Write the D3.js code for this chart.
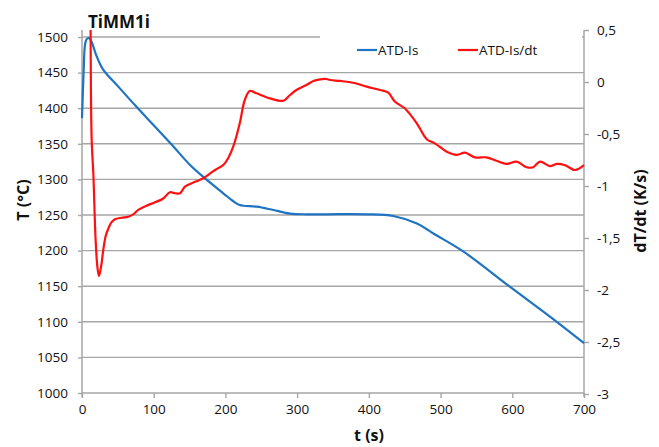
<!DOCTYPE html>
<html>
<head>
<meta charset="utf-8">
<script src="https://cdn.jsdelivr.net/npm/d3@7"></script>
<style>
  body { margin: 0; background: #fff; }
  svg { display: block; font-family: "Open Sans", sans-serif; }
</style>
</head>
<body>
<div id="chart"></div>
<script>
// temperature curve (left axis)
const tempTime = [0, 2.3, 4.2, 6.5, 9.8, 13.5, 20, 29, 50, 75, 100, 125, 150, 172, 197, 210, 220, 243.6, 266.8, 290, 313, 341, 397, 434, 467, 490, 532, 597, 662, 700];
const tempValues = [1386, 1453, 1489, 1497, 1498.5, 1493, 1474, 1455, 1431, 1403, 1376, 1349, 1321, 1301, 1280.5, 1270, 1264, 1261.7, 1257, 1252, 1251, 1251, 1251, 1248.6, 1238, 1224, 1198.5, 1149, 1100, 1070];

// derivative curve (right axis)
const rateTime = [12, 13.5, 15.8, 19, 21.5, 23.7, 26.5, 29.7, 33, 36.7, 41, 46, 55, 64.6, 72, 78.5, 90, 101.8, 113.4, 122.7, 129.7, 136.7, 143.6, 150.6, 157.6, 169, 185.5, 197, 204, 211, 220, 227, 234, 243.6, 262, 280.7, 290, 299, 313, 322.6, 332, 341, 346, 360, 378, 397, 415.6, 427, 436.5, 450, 466.8, 480.7, 492, 508.6, 522.6, 534, 548, 564, 578, 592, 606, 620, 629, 638.7, 652.6, 662, 673.6, 687.5, 700];
const rateValues = [0.5, -0.56, -0.88, -1.52, -1.78, -1.865, -1.78, -1.615, -1.48, -1.41, -1.35, -1.32, -1.305, -1.295, -1.27, -1.23, -1.19, -1.157, -1.12, -1.06, -1.07, -1.07, -1.006, -0.98, -0.96, -0.926, -0.846, -0.798, -0.73, -0.62, -0.397, -0.173, -0.087, -0.109, -0.157, -0.18, -0.125, -0.077, -0.029, 0.01, 0.026, 0.029, 0.019, 0.01, -0.007, -0.045, -0.077, -0.103, -0.19, -0.253, -0.397, -0.55, -0.59, -0.67, -0.70, -0.68, -0.725, -0.725, -0.757, -0.788, -0.766, -0.82, -0.82, -0.766, -0.81, -0.788, -0.80, -0.846, -0.80];

const xTicks = [0, 100, 200, 300, 400, 500, 600, 700];
const leftTicks = [1000, 1050, 1100, 1150, 1200, 1250, 1300, 1350, 1400, 1450, 1500];
const rightTicks = [0.5, 0, -0.5, -1, -1.5, -2, -2.5, -3];
const rightTickLabels = ["0,5", "0", "-0,5", "-1", "-1,5", "-2", "-2,5", "-3"];
const seriesNames = ["ATD-Is", "ATD-Is/dt"];

const W = 659, H = 447;
const plotLeft = 82, plotRight = 584, plotTop = 30, plotBottom = 394;
const gridColor = "#a6a6a6";
const blue = "#1e73c3", red = "#ff1010";

const svg = d3.select("#chart").append("svg")
    .attr("width", W)
    .attr("height", H);

const x = d3.scaleLinear().domain([0, 700]).range([plotLeft, plotRight]);
const yL = d3.scaleLinear().domain([1000, 1500]).range([393, 37]);
const yR = d3.scaleLinear().domain([-3, 0.5]).range([plotBottom, plotTop]);

// gridlines from left axis
svg.append("g").selectAll("line")
    .data(leftTicks.slice(1))
    .enter().append("line")
    .attr("x1", plotLeft).attr("x2", plotRight)
    .attr("y1", d => yL(d)).attr("y2", d => yL(d))
    .attr("stroke", gridColor).attr("stroke-width", 1.4);

// axis lines
svg.append("line").attr("x1", plotLeft).attr("x2", plotLeft).attr("y1", plotTop).attr("y2", 397)
    .attr("stroke", gridColor).attr("stroke-width", 1.5);
svg.append("line").attr("x1", plotRight).attr("x2", plotRight).attr("y1", plotTop).attr("y2", 397)
    .attr("stroke", gridColor).attr("stroke-width", 1.5);
svg.append("line").attr("x1", plotLeft).attr("x2", plotRight).attr("y1", 393).attr("y2", 393)
    .attr("stroke", gridColor).attr("stroke-width", 1.5);

const styleAxis = g => {
    g.select(".domain").remove();
    g.selectAll(".tick line").attr("stroke", gridColor).attr("stroke-width", 1.4);
    g.selectAll(".tick text").attr("fill", "#111").style("font-size", "13.5px")
        .style("font-family", "'Open Sans', sans-serif");
};

svg.append("g")
    .attr("transform", "translate(" + plotLeft + ",0)")
    .call(d3.axisLeft(yL).tickValues(leftTicks).tickFormat(d3.format("d"))
        .tickSize(4).tickPadding(10).tickSizeOuter(0))
    .call(styleAxis);

svg.append("g")
    .attr("transform", "translate(" + plotRight + ",0)")
    .call(d3.axisRight(yR).tickValues(rightTicks).tickFormat((d, i) => rightTickLabels[i])
        .tickSize(5).tickPadding(8).tickSizeOuter(0))
    .call(styleAxis);

svg.append("g")
    .attr("transform", "translate(0,393)")
    .call(d3.axisBottom(x).tickValues(xTicks).tickFormat(d3.format("d"))
        .tickSize(5).tickPadding(6).tickSizeOuter(0))
    .call(styleAxis);

// legend background hides the top gridline like the original
svg.append("rect").attr("x", 320).attr("y", 33).attr("width", 262).attr("height", 34).attr("fill", "#fff");

// curves
const tempLine = d3.line()
    .x(d => x(d[0])).y(d => yL(d[1]))
    .curve(d3.curveCatmullRom.alpha(0.5));
const rateLine = d3.line()
    .x(d => x(d[0])).y(d => yR(d[1]))
    .curve(d3.curveCatmullRom.alpha(0.5));

svg.append("path")
    .datum(tempTime.map((t, i) => [t, tempValues[i]]))
    .attr("d", tempLine)
    .attr("fill", "none").attr("stroke", blue).attr("stroke-width", 2.2)
    .attr("stroke-linejoin", "round");

svg.append("path")
    .datum(rateTime.map((t, i) => [t, rateValues[i]]))
    .attr("d", rateLine)
    .attr("fill", "none").attr("stroke", red).attr("stroke-width", 2.2)
    .attr("stroke-linejoin", "round");

// legend
const legend = svg.append("g").style("font-size", "13.5px");
[[357, blue], [458, red]].forEach((p, i) => {
    legend.append("line").attr("x1", p[0]).attr("x2", p[0] + 20).attr("y1", 50).attr("y2", 50)
        .attr("stroke", p[1]).attr("stroke-width", 2.2);
    legend.append("text").attr("x", p[0] + 21).attr("y", 50).attr("dy", "0.35em")
        .attr("fill", "#111").text(seriesNames[i]);
});

// titles
svg.append("text").attr("x", 88).attr("y", 28)
    .style("font-size", "17px").style("font-weight", "bold").attr("fill", "#111")
    .text("TiMM1i");

svg.append("text").attr("x", 369).attr("y", 441).attr("text-anchor", "middle")
    .style("font-size", "16px").style("font-weight", "bold").attr("fill", "#111")
    .text("t (s)");

svg.append("text").attr("transform", "translate(29,200) rotate(-90)")
    .attr("text-anchor", "middle")
    .style("font-size", "16px").style("font-weight", "bold").attr("fill", "#111")
    .text("T (°C)");

svg.append("text").attr("transform", "translate(646,211) rotate(-90)")
    .attr("text-anchor", "middle")
    .style("font-size", "16px").style("font-weight", "bold").attr("fill", "#111")
    .text("dT/dt (K/s)");
</script>
</body>
</html>
